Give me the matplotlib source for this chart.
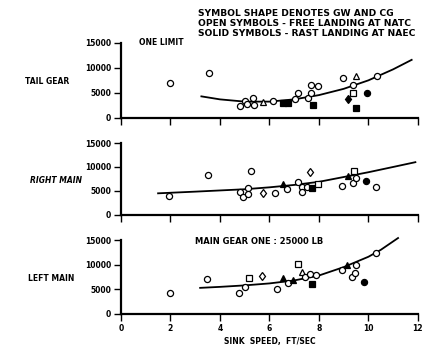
"""Landing gear load vs sink speed, three stacked panels."""

import matplotlib
matplotlib.use('Agg')
import matplotlib.pyplot as plt

# ------------------------------------------------------------------------
# Data

# tail gear
tail_x = [2.0, 3.56, 4.81, 5.0, 5.1, 5.35, 5.39, 5.75, 6.16, 6.56, 6.76,
          7.03, 7.17, 7.57, 7.7, 7.7, 7.97, 7.77, 8.98, 9.5, 9.39, 9.39,
          9.19, 9.52, 9.93, 10.36]
tail_y = [7000, 8900, 2400, 3300, 2800, 3900, 2600, 3100, 3300, 3000, 3000,
          3700, 4900, 3900, 6600, 4900, 6300, 2600, 7900, 8300, 6600, 4900,
          3700, 1900, 4900, 8300]
tail_sym = ['o', 'o', 'o', 'o', 'o', 'o', 'o', '^', 'o', 's', 's',
            'o', 'o', 'o', 'o', 'o', 'o', 's', 'o', '^', 'o', 's',
            'd', 's', 'o', 'o']
tail_solid = [0, 0, 0, 0, 0, 0, 0, 0, 0, 1, 1,
              0, 0, 0, 0, 0, 0, 1, 0, 0, 0, 0,
              1, 1, 1, 0]
tail_fit_x = [3.25, 4.0, 5.0, 6.0, 7.0, 8.0, 9.0, 10.0, 11.0, 11.75]
tail_fit_y = [4300, 3700, 3250, 3250, 3700, 4550, 5800, 7500, 9700, 11600]

# right main
right_x = [1.95, 3.53, 4.81, 4.94, 5.12, 5.14, 5.25, 5.75, 6.22, 6.56, 6.7,
           7.17, 7.3, 7.3, 7.5, 7.66, 7.74, 7.97, 8.95, 9.19, 9.36, 9.43,
           9.48, 9.9, 10.29]
right_y = [4000, 8300, 4800, 3800, 5700, 4400, 9100, 4500, 4600, 6500, 5300,
           6900, 5900, 4700, 5900, 9000, 5700, 6500, 6000, 8100, 6600, 9200,
           7600, 7100, 5900]
right_sym = ['o', 'o', 'o', 'o', 'o', 'o', 'o', 'd', 'o', '^', 'o',
             'o', 'o', 'o', 'o', 'd', 's', 's', 'o', '^', 'o', 's',
             'o', 'o', 'o']
right_solid = [0, 0, 0, 0, 0, 0, 0, 0, 0, 1, 0,
               0, 0, 0, 0, 0, 1, 0, 0, 1, 0, 0,
               0, 1, 0]
right_fit_x = [1.5, 3.0, 5.0, 6.0, 7.0, 8.0, 9.0, 10.0, 11.0, 11.9]
right_fit_y = [4500, 4850, 5350, 5750, 6250, 6900, 7900, 8900, 10000, 11000]

# left main
left_x = [2.0, 3.49, 4.78, 5.01, 5.18, 5.71, 6.29, 6.56, 6.76, 6.96, 7.17,
          7.3, 7.45, 7.64, 7.74, 7.9, 8.92, 9.12, 9.32, 9.45, 9.52, 9.82,
          10.3]
left_y = [4300, 7100, 4300, 5400, 7300, 7700, 5000, 7200, 6200, 6900, 10100,
          8600, 7600, 8200, 6100, 7900, 9000, 10000, 7500, 8300, 9900, 6500,
          12300]
left_sym = ['o', 'o', 'o', 'o', 's', 'd', 'o', '^', 'o', '^', 's',
            '^', 'o', 'o', 's', 'o', 'o', '^', 'o', 'o', 'o', 'o',
            'o']
left_solid = [0, 0, 0, 0, 0, 0, 0, 1, 0, 1, 0,
              0, 0, 0, 1, 0, 0, 1, 0, 0, 0, 1,
              0]
left_fit_x = [3.2, 4.0, 5.0, 6.0, 7.0, 8.0, 9.0, 10.0, 10.5, 11.2]
left_fit_y = [5300, 5500, 5800, 6200, 6800, 7800, 9500, 11600, 13000, 15400]

y_ticks = [0, 5000, 10000, 15000]
x_ticks = [0, 2, 4, 6, 8, 10, 12]

note_lines = ['SYMBOL SHAPE DENOTES GW AND CG',
              'OPEN SYMBOLS - FREE LANDING AT NATC',
              'SOLID SYMBOLS - RAST LANDING AT NAEC']

# ------------------------------------------------------------------------
# Figure

plt.rcParams['font.family'] = ['DejaVu Sans']
fig = plt.figure(figsize=(4.29, 3.54), dpi=100)

panels = [
    ('TAIL GEAR', 'normal', -0.25, [0.282, 0.667, 0.692, 0.212],
     tail_x, tail_y, tail_sym, tail_solid, tail_fit_x, tail_fit_y),
    ('RIGHT MAIN', 'italic', -0.22, [0.282, 0.393, 0.692, 0.203],
     right_x, right_y, right_sym, right_solid, right_fit_x, right_fit_y),
    ('LEFT MAIN', 'normal', -0.235, [0.282, 0.113, 0.692, 0.209],
     left_x, left_y, left_sym, left_solid, left_fit_x, left_fit_y),
]

axes = []
for name, style, lx, rect, xs, ys, syms, solid, fx, fy in panels:
    ax = fig.add_axes(rect)
    axes.append(ax)

    # Fitted curve
    ax.plot(fx, fy, color='black', lw=1.3, clip_on=False, zorder=2)

    # Symbols
    for x, y, s, f in zip(xs, ys, syms, solid):
        ms = 4.4 if s in 'od' else 4.2
        ax.plot(x, y, marker=s, ms=ms, mec='black', mew=0.9,
                mfc='black' if f else 'white', ls='none',
                clip_on=False, zorder=3)

    ax.set_xlim(0, 12)
    ax.set_ylim(0, 15000)
    ax.set_xticks(x_ticks)
    ax.set_yticks(y_ticks)
    ax.spines['top'].set_visible(False)
    ax.spines['right'].set_visible(False)
    ax.spines['left'].set_linewidth(1.6)
    ax.spines['bottom'].set_linewidth(1.6)
    ax.tick_params(direction='out', length=5, width=1, labelsize=5.5,
                   pad=2)
    ax.set_yticklabels([str(v) for v in y_ticks], fontweight='bold')
    ax.set_xticklabels([str(v) for v in x_ticks], fontweight='bold')
    if name != 'LEFT MAIN':
        ax.tick_params(labelbottom=False)

    # Row label on the left
    ax.text(lx, 0.48, name, transform=ax.transAxes, ha='center',
            va='center', fontsize=5.5, fontweight='bold', style=style)

axes[0].text(0.06, 1.0, 'ONE LIMIT', transform=axes[0].transAxes,
             fontsize=5.5, fontweight='bold', va='center')
axes[2].text(0.25, 0.98, 'MAIN GEAR ONE : 25000 LB',
             transform=axes[2].transAxes, fontsize=6, fontweight='bold',
             va='center')
axes[2].set_xlabel('SINK  SPEED,  FT/SEC', fontsize=5.5, fontweight='bold',
                   labelpad=3)

for i, line in enumerate(note_lines):
    fig.text(0.462, 0.962 - i * 0.029, line, fontsize=6.6,
             fontweight='bold', va='center')

fig.savefig('out.png', dpi=100)
